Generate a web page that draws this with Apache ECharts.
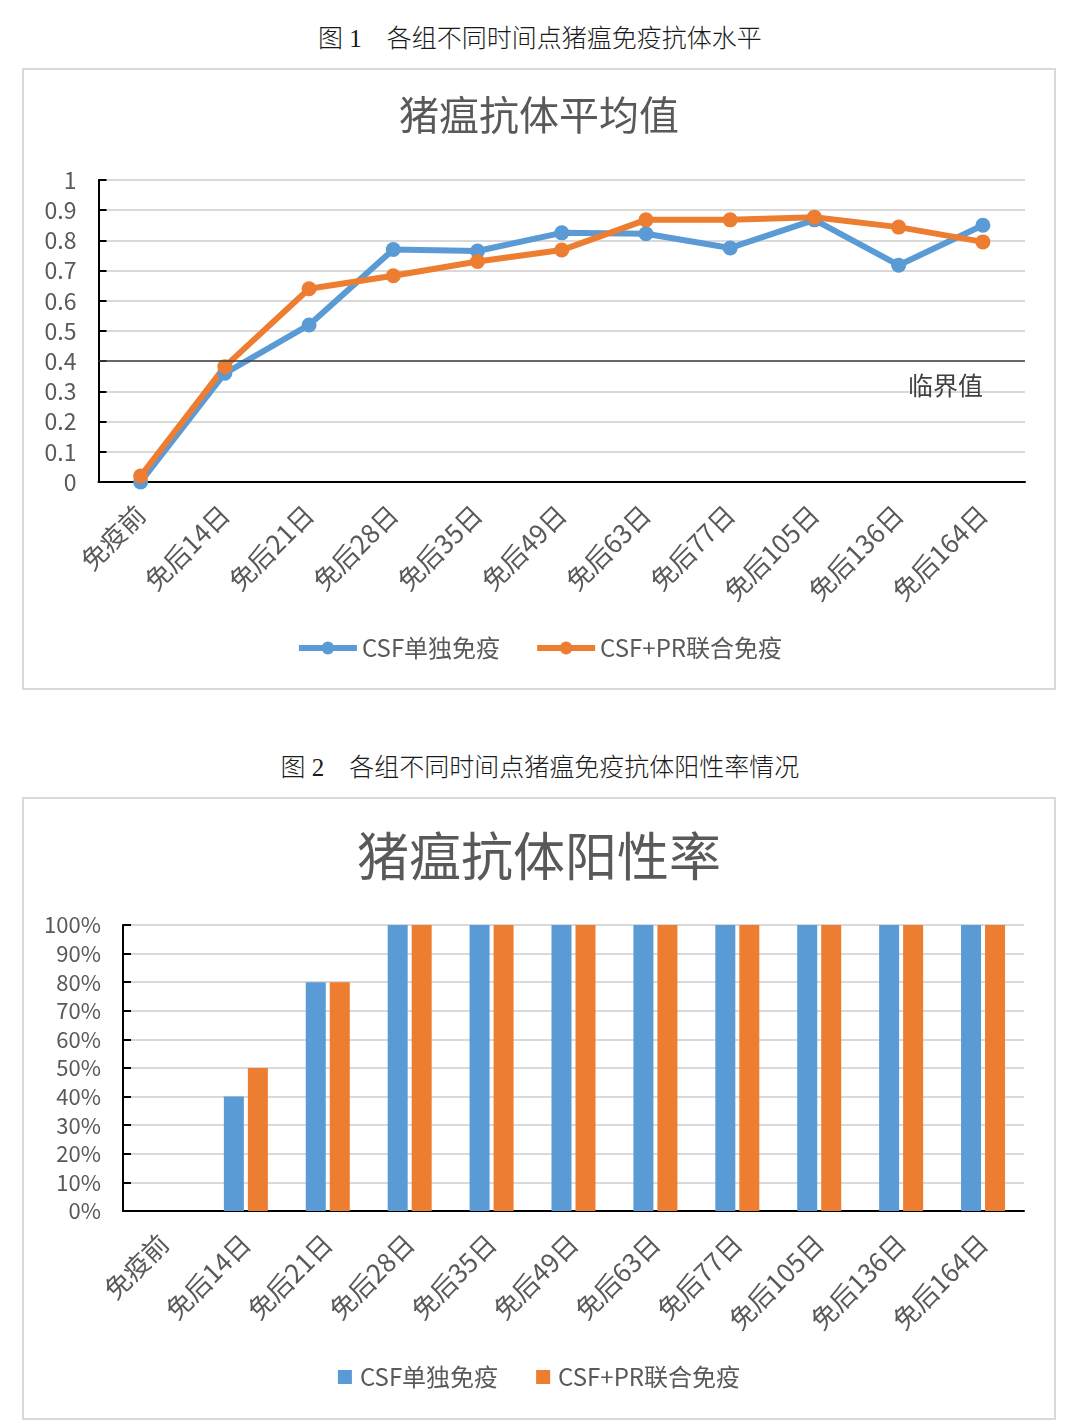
<!DOCTYPE html>
<html>
<head>
<meta charset="utf-8">
<script src="https://cdn.jsdelivr.net/npm/echarts@6/dist/echarts.min.js"></script>
<style>
  html, body { margin: 0; padding: 0; background: #ffffff; width: 1080px; height: 1427px; overflow: hidden; }
  .cap { position: absolute; left: 0; width: 1080px; text-align: center; font-family: "Liberation Serif", "Noto Sans CJK SC", serif; font-weight: 300; font-size: 25px; color: #1a1a1a; line-height: 30px; }
  .box { position: absolute; left: 22px; width: 1034px; border: 2px solid #d9d9d9; box-sizing: border-box; background: #fff; }
</style>
</head>
<body>
<div class="cap" style="top:24px;">图 1　各组不同时间点猪瘟免疫抗体水平</div>
<div id="c1" class="box" style="top:68px;height:622px;"></div>
<div class="cap" style="top:753px;">图 2　各组不同时间点猪瘟免疫抗体阳性率情况</div>
<div id="c2" class="box" style="top:797px;height:623px;"></div>
<script>
// ---- data ----
var categories = ['免疫前', '免后14日', '免后21日', '免后28日', '免后35日', '免后49日', '免后63日', '免后77日', '免后105日', '免后136日', '免后164日'];
var seriesNames = ['CSF单独免疫', 'CSF+PR联合免疫'];
var antibodySingle = [0.00, 0.36, 0.52, 0.77, 0.765, 0.825, 0.822, 0.775, 0.868, 0.718, 0.85];
var antibodyCombined = [0.02, 0.382, 0.64, 0.683, 0.73, 0.768, 0.868, 0.868, 0.877, 0.844, 0.795];
var thresholdValue = 0.4;
var thresholdLabel = '临界值';
var positiveSingle = [0, 40, 80, 100, 100, 100, 100, 100, 100, 100, 100];
var positiveCombined = [0, 50, 80, 100, 100, 100, 100, 100, 100, 100, 100];
var title1 = '猪瘟抗体平均值';
var title2 = '猪瘟抗体阳性率';

var FONT = '"Noto Sans CJK SC", "Noto Sans", sans-serif';
var TXT = '#595959';
var BLUE = '#5B9BD5';
var ORANGE = '#ED7D31';

var c1 = echarts.init(document.getElementById('c1'));
c1.setOption({
  animation: false,
  textStyle: { fontFamily: FONT },
  title: {
    text: title1, left: 'center', top: 20,
    textStyle: { fontFamily: FONT, fontSize: 40, fontWeight: 'normal', color: TXT }
  },
  legend: {
    top: 561, left: 'center',
    itemWidth: 58, itemHeight: 16, itemGap: 34,
    lineStyle: { width: 6 },
    textStyle: { fontFamily: FONT, fontSize: 24, color: TXT },
    data: seriesNames
  },
  grid: { left: 74.5, right: 29, top: 110, bottom: 206 },
  xAxis: {
    type: 'category', data: categories, boundaryGap: true,
    axisLine: { lineStyle: { color: '#000', width: 2 } },
    axisTick: { inside: true, length: 8, lineStyle: { color: '#000', width: 2 } },
    axisLabel: { rotate: 45, margin: 28, fontSize: 26, color: TXT, fontFamily: FONT, interval: 0 }
  },
  yAxis: {
    type: 'value', min: 0, max: 1, interval: 0.1,
    axisLine: { show: true, lineStyle: { color: '#000', width: 2 } },
    axisTick: { show: true, inside: true, length: 8, lineStyle: { color: '#000', width: 2 } },
    axisLabel: { fontSize: 23, color: TXT, margin: 22, fontFamily: FONT },
    splitLine: { lineStyle: { color: '#d9d9d9', width: 2 } }
  },
  series: [
    {
      name: seriesNames[0], type: 'line', data: antibodySingle,
      symbol: 'circle', symbolSize: 15,
      lineStyle: { color: BLUE, width: 6 }, itemStyle: { color: BLUE },
      markLine: {
        silent: true, symbol: ['none', 'none'],
        lineStyle: { color: '#404040', width: 1.5, type: 'solid' },
        label: { show: true, formatter: thresholdLabel, position: 'insideEndBottom', distance: [42, 12], fontSize: 25, color: '#404040', fontFamily: FONT },
        data: [{ yAxis: thresholdValue }]
      }
    },
    {
      name: seriesNames[1], type: 'line', data: antibodyCombined,
      symbol: 'circle', symbolSize: 15,
      lineStyle: { color: ORANGE, width: 6 }, itemStyle: { color: ORANGE }
    }
  ]
});

var c2 = echarts.init(document.getElementById('c2'));
c2.setOption({
  animation: false,
  textStyle: { fontFamily: FONT },
  title: {
    text: title2, left: 'center', top: 26,
    textStyle: { fontFamily: FONT, fontSize: 52, fontWeight: 'normal', color: TXT }
  },
  legend: {
    top: 561, left: 'center', icon: 'rect',
    itemWidth: 14, itemHeight: 14, itemGap: 38,
    textStyle: { fontFamily: FONT, fontSize: 24, color: TXT, padding: [0, 0, 0, 3] },
    data: seriesNames
  },
  grid: { left: 99, right: 30, top: 126, bottom: 207 },
  xAxis: {
    type: 'category', data: categories,
    axisLine: { lineStyle: { color: '#000', width: 2 } },
    axisTick: { inside: true, length: 8, lineStyle: { color: '#000', width: 2 } },
    axisLabel: { rotate: 45, margin: 28, fontSize: 26, color: TXT, fontFamily: FONT, interval: 0 }
  },
  yAxis: {
    type: 'value', min: 0, max: 100, interval: 10,
    axisLine: { show: true, lineStyle: { color: '#000', width: 2 } },
    axisTick: { show: true, inside: true, length: 8, lineStyle: { color: '#000', width: 2 } },
    axisLabel: { fontSize: 22, color: TXT, margin: 22, fontFamily: FONT, formatter: '{value}%' },
    splitLine: { lineStyle: { color: '#d9d9d9', width: 2 } }
  },
  series: [
    { name: seriesNames[0], type: 'bar', data: positiveSingle, barWidth: 20, barGap: '20%', itemStyle: { color: BLUE } },
    { name: seriesNames[1], type: 'bar', data: positiveCombined, barWidth: 20, barGap: '20%', itemStyle: { color: ORANGE } }
  ]
});
</script>
</body>
</html>
